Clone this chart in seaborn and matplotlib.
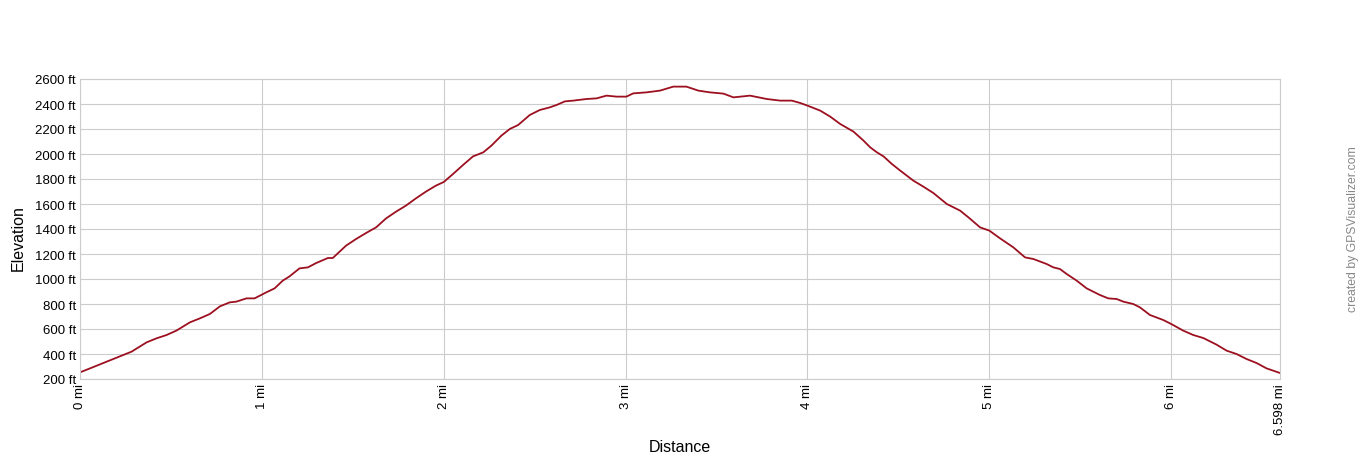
import matplotlib
matplotlib.use('Agg')
import matplotlib.pyplot as plt
import seaborn as sns
import pandas as pd

# Elevation profile, values
distance_mi = [0.0, 0.055, 0.183, 0.284, 0.366, 0.42, 0.476, 0.53, 0.604, 0.659,
               0.714, 0.769, 0.823, 0.86, 0.915, 0.96, 1.024, 1.07, 1.115, 1.152,
               1.207, 1.253, 1.299, 1.363, 1.39, 1.463, 1.518, 1.573, 1.628, 1.683,
               1.738, 1.792, 1.847, 1.902, 1.957, 2.0, 2.051, 2.106, 2.161, 2.217,
               2.262, 2.317, 2.363, 2.409, 2.473, 2.528, 2.583, 2.62, 2.666, 2.712,
               2.785, 2.84, 2.895, 2.95, 3.004, 3.042, 3.114, 3.189, 3.262, 3.334,
               3.4, 3.464, 3.538, 3.593, 3.684, 3.776, 3.85, 3.914, 3.96, 4.0,
               4.07, 4.125, 4.18, 4.253, 4.308, 4.345, 4.382, 4.418, 4.464, 4.51,
               4.582, 4.637, 4.692, 4.766, 4.839, 4.885, 4.949, 5.0, 5.059, 5.132,
               5.196, 5.242, 5.315, 5.352, 5.388, 5.425, 5.48, 5.535, 5.608, 5.654,
               5.7, 5.736, 5.791, 5.828, 5.883, 5.956, 6.0, 6.066, 6.121, 6.176,
               6.249, 6.304, 6.359, 6.414, 6.469, 6.524, 6.598]
elevation_ft = [253, 285, 360, 419, 493, 525, 552, 587, 653, 685,
                720, 781, 813, 819, 845, 845, 893, 925, 987, 1021,
                1085, 1093, 1128, 1168, 1168, 1267, 1320, 1368, 1413, 1485,
                1539, 1587, 1645, 1699, 1747, 1776, 1840, 1912, 1981, 2013,
                2067, 2147, 2200, 2232, 2312, 2352, 2373, 2392, 2421, 2427,
                2440, 2445, 2467, 2459, 2459, 2485, 2493, 2507, 2539, 2539,
                2507, 2493, 2483, 2453, 2467, 2440, 2427, 2427, 2408, 2387,
                2347, 2299, 2240, 2179, 2107, 2053, 2013, 1981, 1920, 1867,
                1787, 1739, 1688, 1600, 1547, 1493, 1413, 1387, 1325, 1253,
                1173, 1160, 1120, 1093, 1080, 1040, 987, 925, 872, 845,
                840, 819, 800, 773, 712, 672, 640, 587, 552, 528,
                475, 427, 400, 360, 328, 285, 248]

x_ticks = [0, 1, 2, 3, 4, 5, 6, 6.598]
x_tick_labels = ['0 mi', '1 mi', '2 mi', '3 mi', '4 mi', '5 mi', '6 mi', '6.598 mi']
y_ticks = list(range(200, 2601, 200))
y_tick_labels = ['%d ft' % v for v in y_ticks]

df = pd.DataFrame({'distance': distance_mi, 'elevation': elevation_ft})

sns.set_style('white')
plt.rcParams['font.family'] = ['Liberation Sans', 'DejaVu Sans']

fig = plt.figure(figsize=(13.6, 4.6), dpi=100)
ax = fig.add_axes([80 / 1360, 80 / 460, 1200 / 1360, 300 / 460])

sns.lineplot(data=df, x='distance', y='elevation', ax=ax,
             color='#9c1020', linewidth=1.3)

ax.set_xlim(0, 6.598)
ax.set_ylim(200, 2600)
ax.set_xticks(x_ticks)
ax.set_xticklabels(x_tick_labels, rotation=90, fontsize=9.5)
ax.set_yticks(y_ticks)
ax.set_yticklabels(y_tick_labels, fontsize=9.5)
ax.tick_params(length=0, pad=3, labelcolor='black')
ax.grid(True, color='#cccccc', linewidth=0.8)
for s in ax.spines.values():
    s.set_color('#cccccc')
    s.set_linewidth(0.8)

ax.set_xlabel('')
ax.set_ylabel('')
fig.text(680 / 1360, 1 - 448 / 460, 'Distance', ha='center', va='center',
         fontsize=11.5, color='black')
fig.text(18 / 1360, 1 - 238 / 460, 'Elevation', rotation=90, ha='center', va='center',
         fontsize=11.5, color='black')

fig.text(1353 / 1360, 1 - 229 / 460, 'created by GPSVisualizer.com', rotation=90,
         ha='center', va='center', fontsize=8.8, color='#888888')

fig.savefig('out.png', dpi=100)
